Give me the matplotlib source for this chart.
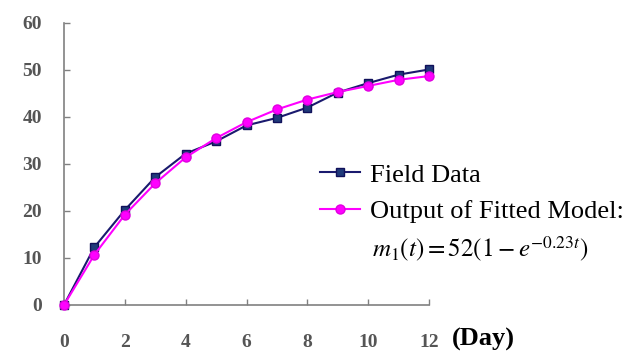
import matplotlib
matplotlib.use("Agg")
import matplotlib.pyplot as plt

days = [0, 1, 2, 3, 4, 5, 6, 7, 8, 9, 10, 11, 12]
field_data = [0, 12.3, 20.2, 27.2, 32.2, 34.8, 38.2, 39.8, 42.0, 45.2, 47.2, 49.0, 50.1]
model_output = [0, 10.7, 19.2, 25.9, 31.4, 35.5, 38.9, 41.6, 43.7, 45.3, 46.6, 47.9, 48.7]
xticks = [0, 2, 4, 6, 8, 10, 12]
yticks = [0, 10, 20, 30, 40, 50, 60]

plt.rcParams['font.family'] = ['Liberation Serif', 'DejaVu Serif']
plt.rcParams['mathtext.fontset'] = 'stix'

fig = plt.figure(figsize=(6.25, 3.53), dpi=100)
ax = fig.add_axes([0.1024, 0.136, 0.584, 0.799])

ax.plot(days, field_data, color='#1A1A6E', lw=1.5, marker='s', ms=6,
        mfc='#1F3A7A', mec='#10105A', label='Field Data', zorder=3)
ax.plot(days, model_output, color='#FF00FF', lw=1.5, marker='o', ms=6.5,
        mfc='#FF00FF', mec='#E000E0', label='Output of Fitted Model:', zorder=4)

ax.set_xlim(0, 12)
ax.set_ylim(0, 60)
ax.set_xticks(xticks)
ax.set_yticks(yticks)
for s in ['top', 'right']:
    ax.spines[s].set_visible(False)
for s in ['left', 'bottom']:
    ax.spines[s].set_color('#808080')
    ax.spines[s].set_linewidth(1.2)
ax.tick_params(axis='both', direction='in', color='#808080', length=4, width=1,
               labelsize=14, labelcolor='#555555')
ax.tick_params(axis='y', pad=16)
ax.tick_params(axis='x', pad=21)
for lbl in ax.get_xticklabels() + ax.get_yticklabels():
    lbl.set_fontweight('bold')

for line in ax.lines:
    line.set_clip_on(False)

fig.text(0.723, 0.037, '(Day)', fontsize=19, fontweight='bold', color='black',
         ha='left', va='center')

leg = fig.legend(loc='upper left', bbox_to_anchor=(0.512, 0.538), frameon=False,
                 fontsize=19, handlelength=1.5, handletextpad=0.38,
                 labelspacing=0.5, borderaxespad=0, borderpad=0)
fig.text(0.595, 0.292, r'$m_1(t) = 52(1 - e^{-0.23t})$', fontsize=18, color='black',
         ha='left', va='center')

fig.savefig('out.png', dpi=100)
